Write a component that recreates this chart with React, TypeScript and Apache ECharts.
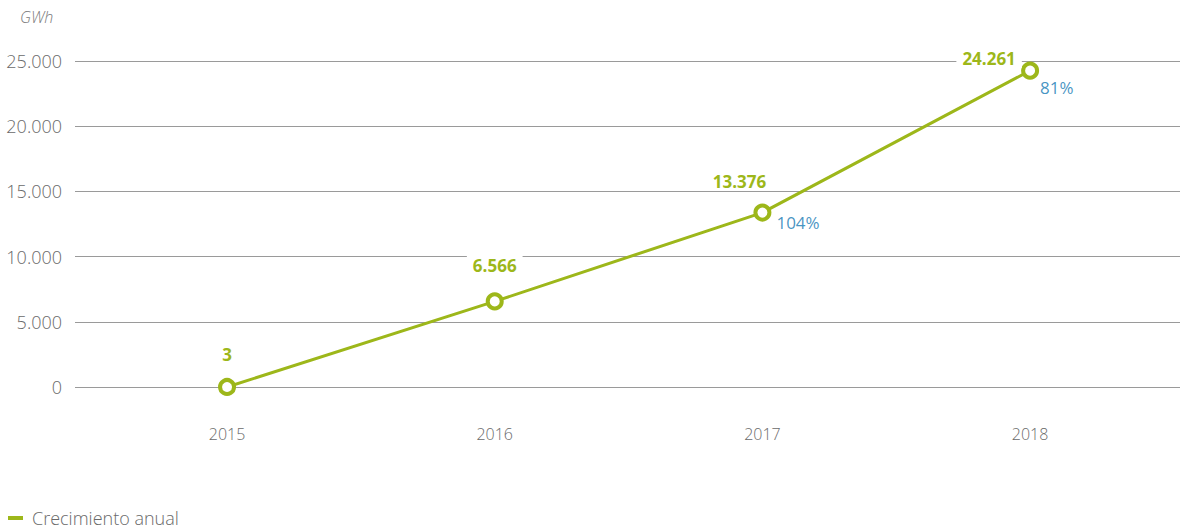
import React, { useEffect, useRef } from "react";
import * as echarts from "echarts";

const years = [2015, 2016, 2017, 2018];
const production = [3, 6566, 13376, 24261];
const growth: (string | null)[] = [null, null, "104%", "81%"];
const seriesName = "Crecimiento anual";
const unit = "GWh";

const GREEN = "#9db71a";
const BLUE = "#1479b3";
const GRAY = "#6a6a6a";
const FONT = "Open Sans";

const valueLabelOffsets = [[0, -32], [0, -36], [-23, -31], [-41, -12]];
const growthLabelOffsets = [[0, 0], [0, 0], [14, 10], [10, 17]];

const fmt = (v: number) => String(Math.round(v)).replace(/\B(?=(\d{3})+(?!\d))/g, ".");

export default function App() {
  const ref = useRef<HTMLDivElement>(null);
  useEffect(() => {
    document.body.style.margin = "0";
    const chart = echarts.init(ref.current!, null, { renderer: "svg" });
    chart.setOption({
      animation: false,
      textStyle: { fontFamily: FONT },
      title: {
        text: unit,
        left: 15,
        top: 4,
        textStyle: { fontStyle: "italic", fontWeight: 300, fontSize: 16, color: "#7a7a7a", fontFamily: FONT },
      },
      legend: {
        data: [{ name: seriesName, itemStyle: { color: GREEN, borderWidth: 0 } }],
        left: 3,
        top: 504,
        icon: "rect",
        itemWidth: 15,
        itemHeight: 4,
        textStyle: { fontSize: 18, fontWeight: 300, color: GRAY, fontFamily: FONT, padding: [0, 0, 0, 4] },
      },
      grid: { left: 75, right: 0, top: 61, bottom: 143 },
      xAxis: {
        type: "value",
        min: 2014.432,
        max: 2018.56,
        axisLine: { show: false },
        axisTick: { show: false },
        splitLine: { show: false },
        axisLabel: {
          customValues: years,
          margin: 39,
          fontSize: 16,
          fontWeight: 300,
          color: GRAY,
          fontFamily: FONT,
          formatter: (v: number) => String(Math.round(v)),
        },
      },
      yAxis: {
        type: "value",
        min: 0,
        max: 25000,
        interval: 5000,
        axisLine: { show: false },
        axisTick: { show: false },
        axisLabel: { margin: 13, fontSize: 18, fontWeight: 300, color: GRAY, fontFamily: FONT, formatter: fmt },
        splitLine: { lineStyle: { color: "#9a9a9a", width: 1 } },
      },
      series: [
        {
          name: seriesName,
          type: "line",
          color: GREEN,
          data: years.map((y, i) => ({
            value: [y, production[i]],
            label: { offset: valueLabelOffsets[i] },
          })),
          lineStyle: { color: GREEN, width: 3 },
          itemStyle: { color: "#ffffff", borderColor: GREEN, borderWidth: 4 },
          symbol: "circle",
          symbolSize: 14,
          showAllSymbol: true,
          z: 5,
          label: {
            show: true,
            position: "inside",
            fontSize: 17,
            fontWeight: "bold",
            color: GREEN,
            fontFamily: FONT,
            backgroundColor: "#ffffff",
            padding: [1, 6],
            formatter: (p: any) => fmt(p.value[1]),
          },
        },
        {
          name: "growth",
          type: "scatter",
          symbolSize: 0,
          silent: true,
          data: years
            .map((y, i) => ({
              value: [y, production[i]],
              g: growth[i],
              label: { offset: growthLabelOffsets[i] },
            }))
            .filter((d) => d.g !== null)
            .map((d) => ({ value: d.value, label: d.label, name: d.g as string })),
          label: {
            show: true,
            position: "inside",
            align: "left",
            fontSize: 17,
            color: BLUE,
            fontFamily: FONT,
            formatter: (p: any) => p.name,
          },
        },
      ],
    });
    return () => chart.dispose();
  }, []);
  return <div ref={ref} style={{ width: 1180, height: 530 }} />;
}
